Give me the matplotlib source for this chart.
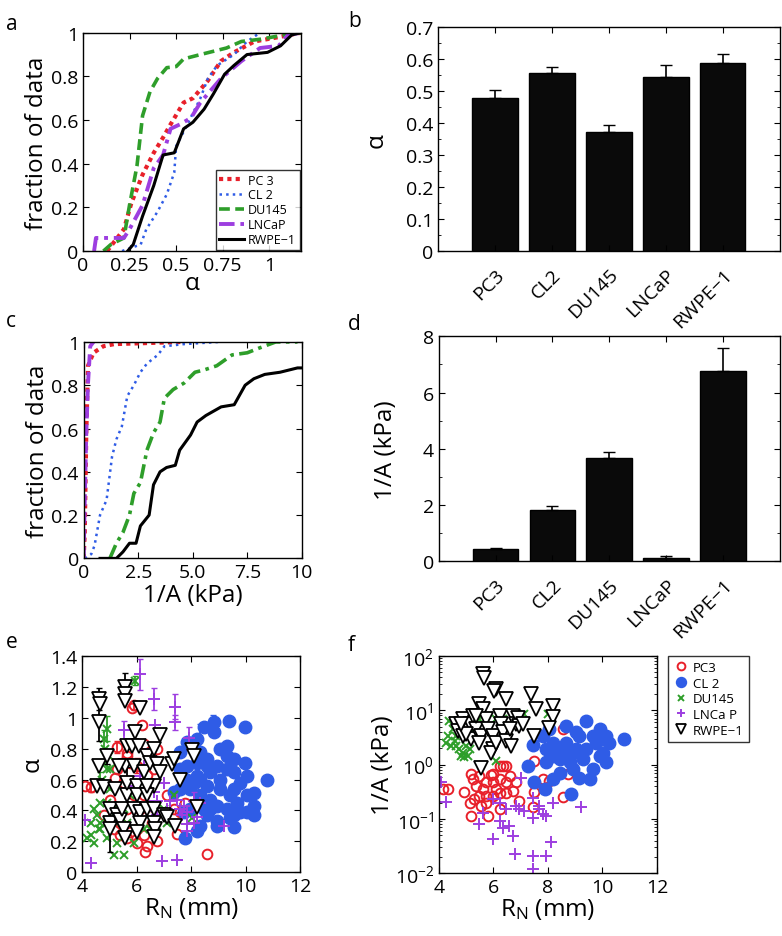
import numpy as np
import matplotlib
matplotlib.use('Agg')
import matplotlib.pyplot as plt
from matplotlib.ticker import MultipleLocator, LogLocator, NullFormatter

plt.rcParams['font.family'] = ['Open Sans', 'DejaVu Sans']
plt.rcParams['mathtext.default'] = 'regular'

# --- colours / names ---
lines_names = ['PC 3', 'CL 2', 'DU145', 'LNCaP', 'RWPE\u22121']
bar_names = ['PC3', 'CL2', 'DU145', 'LNCaP', 'RWPE\u22121']
scat_names = ['PC3', 'CL 2', 'DU145', 'LNCa P', 'RWPE\u22121']
red, blue, green, purple = '#e8202a', '#2f5ce6', '#2e9e2a', '#9d3ee0'

# --- a: cumulative distributions of alpha ---
a_pc3_x = [0.13, 0.22, 0.26, 0.32, 0.38, 0.43, 0.47, 0.54, 0.59, 0.67, 0.74, 0.81, 0.92, 1.05, 1.17]
a_pc3_y = [0.0, 0.10, 0.22, 0.35, 0.45, 0.52, 0.58, 0.68, 0.70, 0.78, 0.87, 0.91, 0.96, 0.98, 1.0]
a_cl2_x = [0.21, 0.31, 0.34, 0.40, 0.45, 0.49, 0.50, 0.56, 0.63, 0.67, 0.72, 0.81, 0.88, 0.95]
a_cl2_y = [0.0, 0.03, 0.10, 0.18, 0.26, 0.36, 0.48, 0.58, 0.70, 0.79, 0.85, 0.90, 0.96, 1.0]
a_du_x = [0.11, 0.15, 0.22, 0.25, 0.29, 0.32, 0.36, 0.40, 0.45, 0.50, 0.54, 0.63, 0.77, 0.85, 0.95, 1.08, 1.17]
a_du_y = [0.0, 0.03, 0.06, 0.21, 0.39, 0.62, 0.73, 0.79, 0.84, 0.845, 0.88, 0.90, 0.93, 0.96, 0.97, 0.99, 1.0]
a_ln_x = [0.06, 0.07, 0.22, 0.25, 0.32, 0.38, 0.43, 0.47, 0.52, 0.58, 0.63, 0.68, 0.74, 0.85, 0.95, 1.05, 1.10, 1.17]
a_ln_y = [0.0, 0.06, 0.06, 0.10, 0.21, 0.38, 0.44, 0.56, 0.58, 0.61, 0.68, 0.73, 0.79, 0.87, 0.93, 0.94, 0.99, 1.0]
a_rw_x = [0.24, 0.27, 0.32, 0.38, 0.43, 0.49, 0.54, 0.59, 0.65, 0.70, 0.76, 0.81, 0.88, 0.99, 1.06, 1.12, 1.17]
a_rw_y = [0.0, 0.03, 0.16, 0.30, 0.44, 0.45, 0.56, 0.59, 0.65, 0.72, 0.81, 0.85, 0.90, 0.91, 0.94, 0.99, 1.0]

# --- b: mean alpha ---
alpha_mean = [0.478, 0.556, 0.373, 0.543, 0.588]
alpha_err = [0.025, 0.018, 0.022, 0.040, 0.027]

# --- c: cumulative distributions of 1/A ---
c_pc3_x = [0.0, 0.05, 0.12, 0.2, 0.45, 0.9, 1.4, 4.5]
c_pc3_y = [0.0, 0.12, 0.58, 0.89, 0.95, 0.98, 0.99, 1.0]
c_cl2_x = [0.05, 0.35, 0.5, 0.75, 1.05, 1.3, 1.5, 1.75, 2.0, 2.3, 2.6, 2.9, 3.4, 3.7, 4.6, 6.2]
c_cl2_y = [0.0, 0.02, 0.06, 0.20, 0.27, 0.47, 0.55, 0.61, 0.75, 0.80, 0.86, 0.90, 0.94, 0.98, 0.99, 1.0]
c_du_x = [1.2, 1.5, 1.8, 2.1, 2.3, 2.6, 2.9, 3.2, 3.5, 3.7, 4.1, 4.6, 5.1, 5.5, 6.1, 6.8, 7.5, 8.0, 8.8, 9.8]
c_du_y = [0.0, 0.07, 0.12, 0.20, 0.30, 0.35, 0.50, 0.58, 0.63, 0.74, 0.78, 0.81, 0.86, 0.87, 0.89, 0.94, 0.95, 0.97, 1.0, 1.0]
c_ln_x = [0.0, 0.05, 0.12, 0.2, 0.3, 0.45]
c_ln_y = [0.0, 0.27, 0.58, 0.81, 0.98, 1.0]
c_rw_x = [0.75, 1.5, 1.8, 2.1, 2.4, 2.6, 3.0, 3.2, 3.5, 3.8, 4.2, 4.4, 4.9, 5.2, 5.6, 6.3, 6.9, 7.4, 7.8, 8.3, 9.0, 9.8, 10.0]
c_rw_y = [0.0, 0.0, 0.03, 0.07, 0.07, 0.15, 0.20, 0.34, 0.40, 0.42, 0.43, 0.50, 0.57, 0.63, 0.66, 0.70, 0.71, 0.80, 0.83, 0.85, 0.86, 0.88, 0.88]

# --- d: mean 1/A ---
invA_mean = [0.42, 1.83, 3.67, 0.13, 6.77]
invA_err = [0.05, 0.12, 0.20, 0.04, 0.81]

# --- e: alpha vs R_N ---
e_pc3_x = [4.12, 4.31, 5.65, 5.77, 5.83, 5.89, 6.2, 6.26, 5.28, 5.47, 5.22, 5.53, 5.83, 6.01, 6.38, 6.62,
           6.75, 6.26, 6.5, 5.65, 5.4, 5.77, 6.01, 6.26, 5.65, 5.4, 6.32, 6.38, 6.75, 7.48, 7.6, 7.79, 7.54,
           8.52, 8.58, 7.11, 6.87, 7.36, 5.89, 5.04, 4.79, 6.14, 6.56, 5.16, 6.01, 5.65, 5.28]
e_pc3_y = [0.56, 0.55, 0.75, 0.71, 1.06, 1.08, 0.95, 0.83, 0.81, 0.71, 0.61, 0.58, 0.56, 0.69, 0.63, 0.67,
           0.80, 0.50, 0.43, 0.41, 0.32, 0.26, 0.28, 0.24, 0.22, 0.24, 0.13, 0.17, 0.20, 0.25, 0.39, 0.45, 0.67,
           0.74, 0.12, 0.50, 0.39, 0.41, 0.50, 0.47, 0.37, 0.41, 0.32, 0.28, 0.19, 0.77, 0.67]
e_cl2_x = [7.79, 8.2, 8.58, 8.95, 9.43, 9.56, 9.8, 10.3, 10.78, 10.29, 10.04, 9.98, 9.98, 9.37, 8.82, 8.46,
           8.82, 7.85, 7.6, 8.2, 9.3, 9.3, 8.58, 8.2, 8.95, 9.56, 9.8, 9.56, 9.07, 8.7, 8.33, 7.97, 7.6, 7.36,
           8.33, 8.7, 8.95, 9.31, 8.46, 7.97, 7.72, 8.2, 7.85, 8.33, 9.07, 9.56, 10.04, 10.29, 10.04, 9.43,
           8.58, 8.09, 9.07, 8.7, 8.95, 9.68, 9.56, 8.33, 7.6, 7.85, 8.58, 9.31]
e_cl2_y = [0.22, 0.27, 0.37, 0.33, 0.35, 0.29, 0.39, 0.37, 0.60, 0.51, 0.62, 0.71, 0.94, 0.98, 0.97, 0.94,
           0.91, 0.84, 0.78, 0.86, 0.82, 0.75, 0.73, 0.71, 0.69, 0.65, 0.58, 0.54, 0.60, 0.65, 0.60, 0.54, 0.54, 0.52,
           0.50, 0.47, 0.43, 0.41, 0.41, 0.41, 0.39, 0.62, 0.69, 0.78, 0.80, 0.73, 0.50, 0.43, 0.39, 0.50,
           0.56, 0.58, 0.54, 0.41, 0.30, 0.45, 0.37, 0.30, 0.67, 0.60, 0.69, 0.67]
e_du_x = [4.31, 4.18, 4.31, 4.43, 4.55, 4.67, 4.67, 4.73, 4.79, 4.85, 4.92, 4.98, 4.92, 5.04, 5.16, 5.16,
          5.53, 5.28, 5.47, 5.65, 5.89, 5.95, 6.14, 6.26, 6.5, 6.75, 7.11, 6.99, 7.36, 5.04, 4.79, 4.67, 4.61,
          5.28, 5.4, 5.77, 8.03, 4.43, 4.92, 5.16, 5.53, 4.67, 4.92]
e_du_y = [0.32, 0.22, 0.24, 0.41, 0.37, 0.45, 0.28, 0.60, 0.86, 0.80, 0.93, 0.75, 0.67, 0.54, 0.41, 0.11,
          0.11, 0.19, 0.28, 0.32, 0.19, 1.24, 0.32, 0.28, 0.28, 0.30, 0.32, 0.41, 0.50, 0.67, 0.71, 0.58, 0.28,
          0.32, 0.41, 0.50, 0.35, 0.19, 0.22, 0.37, 0.41, 0.32, 0.45]
e_ln_x = [4.12, 4.31, 6.14, 6.62, 7.42, 7.42, 6.68, 5.53, 7.91, 6.5, 6.99, 7.24, 7.11, 7.6, 7.66, 7.85, 7.85,
          8.09, 8.21, 6.93, 7.48, 7.85, 9.19, 6.75, 6.62, 6.26, 6.5, 6.75, 5.89, 6.26, 7.48, 8.33, 8.09, 6.14, 7.72]
e_ln_y = [0.34, 0.06, 1.28, 1.12, 1.07, 0.97, 0.95, 0.92, 0.87, 0.80, 0.58, 0.46, 0.41, 0.41, 0.37, 0.39, 0.31,
          0.46, 0.36, 0.07, 0.08, 0.27, 0.30, 0.46, 0.52, 0.54, 0.43, 0.37, 0.56, 0.69, 0.47, 0.45, 0.32, 0.62, 0.43]
e_rw_x = [4.61, 4.67, 4.61, 5.59, 5.59, 5.59, 6.14, 4.61, 4.92, 4.55, 4.79, 5.22, 5.04, 5.04, 5.04, 5.28,
          5.4, 5.47, 5.53, 5.59, 5.65, 5.65, 5.59, 5.65, 5.83, 5.95, 6.07, 5.89, 6.01, 6.01, 5.89, 6.14, 6.14,
          6.01, 6.26, 6.38, 6.5, 6.62, 6.87, 6.75, 6.87, 6.62, 6.38, 6.62, 6.62, 6.68, 6.62, 6.99, 7.11, 7.3,
          7.36, 7.6, 8.03, 8.09, 8.21, 7.42, 6.38, 5.34, 6.38]
e_rw_y = [1.12, 1.09, 0.97, 1.20, 1.15, 1.11, 1.06, 0.69, 0.75, 0.56, 0.55, 0.54, 0.41, 0.32, 0.28, 0.37,
          0.34, 0.41, 0.28, 0.22, 0.50, 0.58, 0.69, 0.82, 0.82, 0.91, 0.82, 0.69, 0.56, 0.50, 0.41, 0.39, 0.32,
          0.26, 0.65, 0.75, 0.71, 0.80, 0.89, 0.70, 0.65, 0.56, 0.41, 0.41, 0.32, 0.28, 0.23, 0.37, 0.36, 0.70,
          0.73, 0.60, 0.79, 0.75, 0.42, 0.30, 0.50, 0.69, 0.56]

# error bars shown on a few points of e
e_eb = {
    'pc3': ([4.31, 5.89, 6.01, 5.28], [0.55, 1.08, 0.69, 0.81], [0.03, 0.03, 0.05, 0.04]),
    'cl2': ([8.33, 8.81], [0.86, 0.96], [0.10, 0.06]),
    'du': ([4.92, 4.79, 5.95, 4.67], [0.93, 0.86, 1.24, 0.60], [0.08, 0.06, 0.03, 0.05]),
    'ln': ([6.14, 6.62, 7.42, 7.42, 5.53, 7.91, 8.09], [1.28, 1.12, 1.07, 0.97, 0.92, 0.87, 0.46],
           [0.10, 0.07, 0.08, 0.05, 0.06, 0.07, 0.06]),
    'rw': ([4.61, 5.59, 4.61, 5.04, 5.65, 4.92], [1.12, 1.20, 0.97, 0.28, 0.58, 0.75],
           [0.07, 0.09, 0.12, 0.15, 0.10, 0.05]),
}

f_pc3_x = [4.15, 4.33, 4.94, 5.13, 5.19, 5.19, 5.49, 5.92, 6.23, 6.35, 6.47, 5.37, 5.61, 5.74, 5.98, 6.23,
           6.47, 6.72, 6.96, 6.84, 5.31, 5.55, 5.80, 6.23, 5.98, 5.74, 5.49, 6.23, 6.47, 5.74, 7.51, 7.51, 7.45,
           7.82, 8.06, 8.55, 8.73, 8.55, 5.25, 5.98, 6.60, 6.10]
f_pc3_lg = [-0.45, -0.45, -0.50, -0.70, -0.94, -0.17, -0.21, -0.19, -0.02, -0.02, -0.02, -0.39, -0.45, -0.33,
            -0.33, -0.27, -0.33, -0.48, -0.67, -0.33, -0.64, -0.76, -0.94, -0.82, -0.58, -0.58, -0.58, -0.52,
            -0.52, -0.70, 0.07, -0.50, -0.79, -0.27, -0.30, 0.65, -0.18, -0.60, -0.27, -0.17, -0.21, -0.45]
f_cl2_x = [7.45, 7.27, 7.51, 7.88, 8.86, 7.82, 8.18, 8.67, 9.04, 9.41, 9.9, 10.26, 10.8, 10.02, 10.14, 9.65,
           9.16, 9.53, 8.92, 8.43, 8.18, 7.94, 8.31, 8.67, 8.92, 9.41, 9.78, 9.90, 9.29, 8.80, 8.43, 8.18, 9.16,
           9.65, 10.14, 7.94, 8.06, 8.67, 9.04]
f_cl2_lg = [0.36, -0.02, -0.33, -0.45, -0.55, 0.53, 0.40, 0.71, 0.59, 0.80, 0.65, 0.40, 0.47, 0.22, 0.04, -0.09,
            -0.24, -0.27, -0.09, 0.10, 0.16, 0.04, 0.28, 0.40, 0.22, 0.28, 0.40, 0.16, 0.10, 0.04, -0.15, -0.27, 0.53,
            0.53, 0.53, 0.28, 0.65, 0.22, 0.28]
f_du_x = [4.39, 4.27, 4.33, 4.51, 4.64, 4.76, 4.88, 4.94, 5.0, 5.13, 4.82, 5.06, 5.31, 6.1, 6.1, 7.14, 7.99,
          4.64, 5.49, 6.35, 4.45, 4.58]
f_du_lg = [0.80, 0.40, 0.53, 0.65, 0.34, 0.28, 0.22, 0.13, 0.34, 0.28, 0.16, 0.16, 0.65, 0.07, 0.83, 0.93, 0.93,
           0.53, 0.83, 0.83, 0.34, 0.44]
f_ln_x = [4.09, 4.27, 5.61, 5.49, 5.98, 6.23, 6.35, 6.59, 6.72, 6.78, 7.02, 6.96, 7.14, 7.45, 7.45, 7.69, 7.82,
          7.94, 8.18, 8.12, 7.45, 7.94, 7.45, 9.22, 6.47, 6.23, 5.98, 6.84, 7.69]
f_ln_lg = [-0.32, -0.69, -0.90, -1.10, -1.37, -1.04, -1.16, -1.13, -1.31, -1.65, -0.24, -0.82, -0.85, -0.61,
           -0.98, -0.76, -0.91, -0.94, -0.70, -1.43, -1.68, -1.68, -1.93, -0.79, -0.82, -0.70, -0.64, -0.76, -0.82]
f_rw_x = [5.61, 5.67, 6.1, 6.04, 6.47, 7.39, 7.57, 8.18, 8.18, 8.06, 7.51, 5.49, 5.61, 4.64, 4.70, 4.88, 4.88,
          5.13, 5.19, 5.25, 5.37, 5.55, 5.49, 5.74, 5.80, 5.98, 5.98, 5.92, 6.10, 6.23, 6.29, 6.35, 6.47, 6.65,
          6.72, 6.84, 6.90, 6.96, 7.08, 6.60, 5.55, 5.0, 4.82, 5.37]
f_rw_lg = [1.66, 1.60, 1.39, 1.36, 1.20, 1.29, 1.02, 1.08, 0.87, 0.68, 0.53, 1.11, 1.02, 0.74, 0.62, 0.83, 0.53,
           0.74, 0.47, 0.89, 0.65, 0.53, 0.40, 0.83, 0.65, 0.53, 0.28, 0.22, 0.40, 0.89, 0.74, 0.60, 0.44, 0.34,
           0.89, 0.74, 0.86, 0.71, 0.74, 0.65, -0.06, 0.56, 0.74, 0.89]

LBL = 17.5
TCK = 14


def style_axes(ax):
    ax.tick_params(direction='in', top=True, right=True, labelsize=TCK, length=4, width=0.8)
    ax.tick_params(which='minor', direction='in', top=True, right=True, length=2, width=0.6)
    for s in ax.spines.values():
        s.set_linewidth(1.0)


fig = plt.figure(figsize=(7.82, 9.37), dpi=100)

# panel a
ax = fig.add_axes([0.106, 0.731, 0.279, 0.233])
ax.plot(a_pc3_x, a_pc3_y, color=red, ls=(0, (1.0, 1.0)), lw=3.0, label=lines_names[0])
ax.plot(a_cl2_x, a_cl2_y, color=blue, ls=':', lw=1.8, label=lines_names[1])
ax.plot(a_du_x, a_du_y, color=green, ls=(0, (3.0, 1.5)), lw=2.6, label=lines_names[2])
ax.plot(a_ln_x, a_ln_y, color=purple, ls=(0, (4.0, 1.5, 1.0, 1.5)), lw=2.8, label=lines_names[3])
ax.plot(a_rw_x, a_rw_y, color='black', ls='-', lw=2.2, label=lines_names[4])
ax.set_xlim(0, 1.17)
ax.set_ylim(0, 1)
ax.set_xticks([0, 0.25, 0.5, 0.75, 1])
ax.set_xticklabels(['0', '0.25', '0.5', '0.75', '1'])
ax.set_yticks([0, 0.2, 0.4, 0.6, 0.8, 1])
ax.set_yticklabels(['0', '0.2', '0.4', '0.6', '0.8', '1'])
ax.set_xlabel('\u03b1', fontsize=LBL, labelpad=-2)
ax.set_ylabel('fraction of data', fontsize=LBL, labelpad=1)
style_axes(ax)
leg = ax.legend(loc='lower right', fontsize=9, frameon=True, fancybox=False, edgecolor='black',
                handlelength=2.0, borderaxespad=0.1, labelspacing=0.15, borderpad=0.3, handletextpad=0.3)
leg.get_frame().set_linewidth(1.0)

# panel b
pos = np.arange(1, 6)
ax = fig.add_axes([0.560, 0.731, 0.437, 0.239])
ax.bar(pos, alpha_mean, width=0.8, color='#0a0a0a', edgecolor='black')
ax.errorbar(pos, alpha_mean, yerr=[np.zeros(5), alpha_err], fmt='none', ecolor='black', capsize=4, lw=1.2)
ax.set_xlim(0, 6)
ax.set_ylim(0, 0.7)
ax.set_xticks(pos)
ax.set_xticklabels(bar_names, rotation=45, ha='right', rotation_mode='anchor')
ax.set_yticks([0, 0.1, 0.2, 0.3, 0.4, 0.5, 0.6, 0.7])
ax.set_yticklabels(['0', '0.1', '0.2', '0.3', '0.4', '0.5', '0.6', '0.7'])
ax.yaxis.set_minor_locator(MultipleLocator(0.05))
ax.set_ylabel('\u03b1', fontsize=LBL, labelpad=12)
style_axes(ax)
ax.tick_params(axis='x', pad=10)

# panel c
ax = fig.add_axes([0.107, 0.403, 0.279, 0.231])
ax.plot(c_pc3_x, c_pc3_y, color=red, ls=(0, (1.0, 1.0)), lw=3.0)
ax.plot(c_cl2_x, c_cl2_y, color=blue, ls=':', lw=1.8)
ax.plot(c_du_x, c_du_y, color=green, ls=(0, (4.0, 1.5, 1.0, 1.5)), lw=2.6)
ax.plot(c_ln_x, c_ln_y, color=purple, ls=(0, (3.0, 1.5)), lw=2.8)
ax.plot(c_rw_x, c_rw_y, color='black', ls='-', lw=2.2)
ax.set_xlim(0, 10)
ax.set_ylim(0, 1)
ax.set_xticks([0, 2.5, 5, 7.5, 10])
ax.set_xticklabels(['0', '2.5', '5.0', '7.5', '10'])
ax.set_yticks([0, 0.2, 0.4, 0.6, 0.8, 1])
ax.set_yticklabels(['0', '0.2', '0.4', '0.6', '0.8', '1'])
ax.set_xlabel('1/A (kPa)', fontsize=LBL, labelpad=1)
ax.set_ylabel('fraction of data', fontsize=LBL, labelpad=1)
style_axes(ax)

# panel d
ax = fig.add_axes([0.561, 0.400, 0.436, 0.240])
ax.bar(pos, invA_mean, width=0.8, color='#0a0a0a', edgecolor='black')
ax.errorbar(pos, invA_mean, yerr=[np.zeros(5), invA_err], fmt='none', ecolor='black', capsize=4, lw=1.2)
ax.set_xlim(0, 6)
ax.set_ylim(0, 8)
ax.set_xticks(pos)
ax.set_xticklabels(bar_names, rotation=45, ha='right', rotation_mode='anchor')
ax.set_yticks([0, 2, 4, 6, 8])
ax.yaxis.set_minor_locator(MultipleLocator(1))
ax.set_ylabel('1/A (kPa)', fontsize=LBL, labelpad=18)
style_axes(ax)
ax.tick_params(axis='x', pad=10)

# panel e
ax = fig.add_axes([0.105, 0.068, 0.279, 0.231])
mk = dict(pc3=dict(marker='o', mfc='none', mec=red, ms=7, mew=1.4, ls='none'),
          cl2=dict(marker='o', mfc=blue, mec=blue, ms=9, ls='none'),
          du=dict(marker='x', color=green, ms=5.5, mew=1.4, ls='none'),
          ln=dict(marker='+', color=purple, ms=8, mew=1.4, ls='none'),
          rw=dict(marker='v', mfc='white', mec='black', ms=9.5, mew=1.3, ls='none'))
cols = dict(pc3=red, cl2=blue, du=green, ln=purple, rw='black')
e_data = [('pc3', e_pc3_x, e_pc3_y), ('cl2', e_cl2_x, e_cl2_y), ('du', e_du_x, e_du_y),
          ('ln', e_ln_x, e_ln_y), ('rw', e_rw_x, e_rw_y)]
for key, xs, ys in e_data:
    ex, ey, ee = e_eb[key]
    ax.errorbar(ex, ey, yerr=ee, fmt='none', ecolor=cols[key], capsize=2, lw=1.3)
    ax.plot(xs, ys, **mk[key])
ax.set_xlim(4, 12)
ax.set_ylim(0, 1.4)
ax.set_xticks([4, 6, 8, 10, 12])
ax.set_yticks([0, 0.2, 0.4, 0.6, 0.8, 1, 1.2, 1.4])
ax.set_yticklabels(['0', '0.2', '0.4', '0.6', '0.8', '1', '1.2', '1.4'])
ax.set_xlabel('R$_\\mathregular{N}$ (mm)', fontsize=LBL, labelpad=0)
ax.set_ylabel('\u03b1', fontsize=LBL, labelpad=4)
style_axes(ax)

# panel f
ax = fig.add_axes([0.561, 0.067, 0.279, 0.232])
f_data = [('pc3', f_pc3_x, f_pc3_lg), ('cl2', f_cl2_x, f_cl2_lg), ('du', f_du_x, f_du_lg),
          ('ln', f_ln_x, f_ln_lg), ('rw', f_rw_x, f_rw_lg)]
for (key, xs, lg), name in zip(f_data, scat_names):
    ax.plot(xs, 10.0 ** np.array(lg), label=name, **mk[key])
ax.set_yscale('log')
ax.set_xlim(4, 12)
ax.set_ylim(1e-2, 1e2)
ax.set_xticks([4, 6, 8, 10, 12])
ax.yaxis.set_major_locator(LogLocator(base=10, numticks=10))
ax.yaxis.set_minor_formatter(NullFormatter())
ax.set_xlabel('R$_\\mathregular{N}$ (mm)', fontsize=LBL, labelpad=0)
ax.set_ylabel('1/A (kPa)', fontsize=LBL, labelpad=0)
style_axes(ax)
leg = ax.legend(loc='upper left', bbox_to_anchor=(1.05, 1.0), fontsize=9.5, frameon=True, fancybox=False,
                edgecolor='black', borderaxespad=0, labelspacing=0.2, handletextpad=0.3, borderpad=0.4,
                handlelength=1.2, markerscale=0.8)
leg.get_frame().set_linewidth(1.0)

# panel letters
for txt, x, y in [('a', 0.008, 0.985), ('b', 0.445, 0.988), ('c', 0.008, 0.668), ('d', 0.445, 0.665),
                  ('e', 0.008, 0.325), ('f', 0.445, 0.322)]:
    fig.text(x, y, txt, fontsize=15, va='top', ha='left')

fig.savefig('out.png', dpi=100)
